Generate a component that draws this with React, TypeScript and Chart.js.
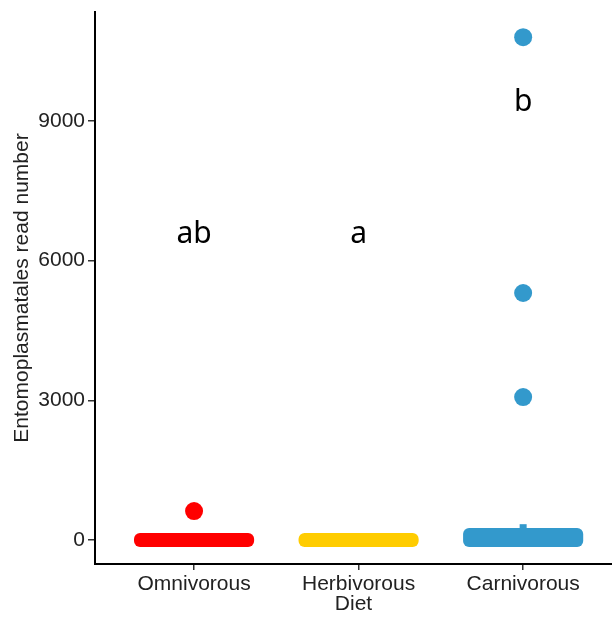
import React, { useEffect, useRef } from 'react';
import { Chart, registerables } from 'chart.js';
Chart.register(...registerables);

const categories = ['Omnivorous', 'Herbivorous', 'Carnivorous'];
const colors = ['#FF0000', '#FFCC00', '#3399CC'];
const boxQ1 = [0, 0, 0];
const boxQ3 = [0, 0, 107];
const whiskerHigh = [0, 0, 340];
const outliersOmni = [623];
const outliersHerb: number[] = [];
const outliersCarn = [10800, 5305, 3071];
const letters = ['ab', 'a', 'b'];
const letterY = [6380, 6380, 9210];
const yTicks = [0, 3000, 6000, 9000];

const boxPlugin = {
  id: 'boxes',
  beforeDatasetsDraw(chart: any) {
    const ctx = chart.ctx;
    const xs = chart.scales.x;
    const ys = chart.scales.y;
    ctx.save();
    categories.forEach((_, i) => {
      const cx = xs.getPixelForValue(i + 1);
      const hw = xs.getPixelForValue(i + 1 + 0.365) - cx;
      const top = ys.getPixelForValue(boxQ3[i]) - 7;
      const bot = ys.getPixelForValue(boxQ1[i]) + 7;
      ctx.fillStyle = colors[i];
      if (whiskerHigh[i] > boxQ3[i]) {
        const wy = ys.getPixelForValue(whiskerHigh[i]);
        ctx.fillRect(cx - 3.5, wy, 7, top - wy + 2);
      }
      ctx.beginPath();
      (ctx as any).roundRect(cx - hw, top, hw * 2, bot - top, 6);
      ctx.fill();
    });
    ctx.restore();
  },
  afterDatasetsDraw(chart: any) {
    const ctx = chart.ctx;
    const xs = chart.scales.x;
    const ys = chart.scales.y;
    ctx.save();
    ctx.font = '30px "Noto Sans"';
    ctx.fillStyle = '#000';
    ctx.textAlign = 'center';
    ctx.textBaseline = 'alphabetic';
    letters.forEach((t, i) => {
      ctx.fillText(t, xs.getPixelForValue(i + 1), ys.getPixelForValue(letterY[i]));
    });
    ctx.restore();
  },
};

export default function App() {
  const ref = useRef<HTMLCanvasElement>(null);
  useEffect(() => {
    const groups = [outliersOmni, outliersHerb, outliersCarn];
    const chart = new Chart(ref.current!, {
      type: 'scatter',
      data: {
        datasets: groups.map((g, i) => ({
          data: g.map((v) => ({ x: i + 1, y: v })),
          backgroundColor: colors[i],
          borderWidth: 0,
          pointRadius: 9,
        })),
      },
      options: {
        responsive: false,
        maintainAspectRatio: false,
        animation: false,
        devicePixelRatio: 1,
        layout: { padding: { top: 12, left: 0, right: 0, bottom: 0 }, autoPadding: false },
        plugins: { legend: { display: false }, tooltip: { enabled: false } },
        scales: {
          x: {
            type: 'linear',
            min: 0.398,
            max: 3.54,
            afterBuildTicks: (s: any) => {
              s.ticks = categories.map((_, i) => ({ value: i + 1 }));
            },
            afterFit: (s: any) => {
              s.height = 53;
              s.paddingLeft = 0;
              s.paddingRight = 0;
            },
            ticks: {
              autoSkip: false,
              maxRotation: 0,
              padding: 2,
              color: '#222',
              font: { family: '"Liberation Sans", Arial', size: 21 },
              callback: (v: any) => categories[Number(v) - 1] ?? '',
            },
            grid: { drawOnChartArea: false, drawTicks: true, tickLength: 6, color: '#333', lineWidth: 1.5 },
            border: { display: true, color: '#000', width: 2 },
            title: {
              display: true,
              text: 'Diet',
              color: '#222',
              font: { family: '"Liberation Sans", Arial', size: 21 },
              padding: { top: 0, bottom: 0 },
            },
          },
          y: {
            type: 'linear',
            min: -515,
            max: 11340,
            afterBuildTicks: (s: any) => {
              s.ticks = yTicks.map((v) => ({ value: v }));
            },
            afterFit: (s: any) => {
              s.width = 95;
              s.paddingTop = 0;
              s.paddingBottom = 0;
            },
            ticks: {
              padding: 3,
              color: '#222',
              font: { family: '"Liberation Sans", Arial', size: 21 },
              callback: (v: any) => String(v),
            },
            grid: { drawOnChartArea: false, drawTicks: true, tickLength: 7, color: '#333', lineWidth: 1.5 },
            border: { display: true, color: '#000', width: 2 },
            title: {
              display: true,
              text: 'Entomoplasmatales read number',
              color: '#222',
              font: { family: '"Liberation Sans", Arial', size: 21 },
              padding: { top: 10, bottom: 0 },
            },
          },
        },
      } as any,
      plugins: [boxPlugin],
    });
    return () => chart.destroy();
  }, []);
  return (
    <div style={{ position: 'fixed', left: 0, top: 0, width: 612, height: 617, background: '#fff' }}>
      <canvas ref={ref} width={612} height={617} />
    </div>
  );
}
